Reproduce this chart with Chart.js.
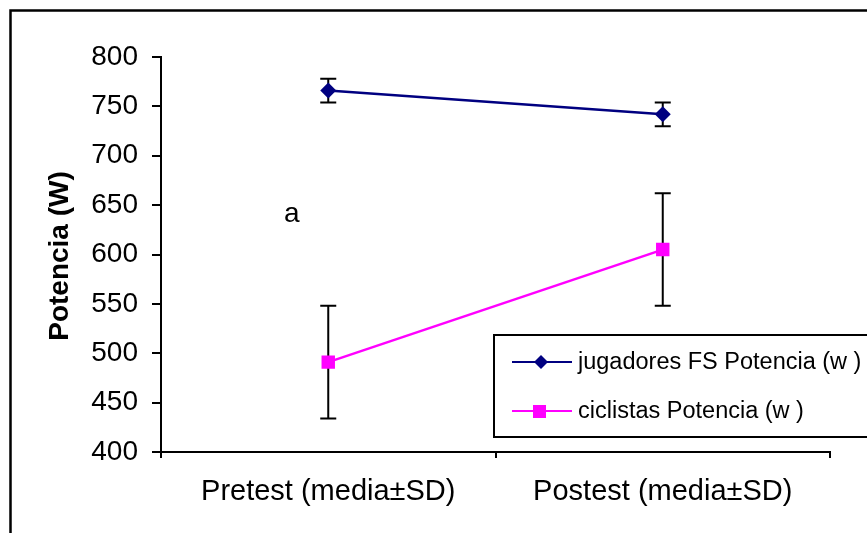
<!DOCTYPE html>
<html>
<head>
<meta charset="utf-8">
<script src="https://cdn.jsdelivr.net/npm/chart.js@4/dist/chart.umd.min.js"></script>
<style>
  html, body { margin: 0; padding: 0; background: #fff; }
  #wrap { width: 867px; height: 533px; position: relative; }
</style>
</head>
<body>
<div id="wrap"><canvas id="c" width="867" height="533"></canvas></div>
<script>
const categories = ['Pretest (media±SD)', 'Postest (media±SD)'];
const seriesNames = ['jugadores FS Potencia (w )', 'ciclistas Potencia (w )'];
const jugadoresMean = [766, 742];
const jugadoresSD = [12, 12];
const ciclistasMean = [491, 605];
const ciclistasSD = [57, 57];
const yMin = 400, yMax = 800, yStep = 50;
const yTitle = 'Potencia (W)';
const annotationText = 'a';

const FONT = '"Liberation Sans", Arial, sans-serif';

const errorBarPlugin = {
  id: 'errorBars',
  beforeDatasetsDraw(chart) {
    const ctx = chart.ctx;
    const x = chart.scales.x, y = chart.scales.y;
    const sets = [[jugadoresMean, jugadoresSD], [ciclistasMean, ciclistasSD]];
    ctx.save();
    ctx.strokeStyle = '#000';
    ctx.lineWidth = 2;
    sets.forEach(([m, sd]) => {
      m.forEach((v, i) => {
        const px = x.getPixelForValue(i);
        const top = y.getPixelForValue(v + sd[i]);
        const bot = y.getPixelForValue(v - sd[i]);
        ctx.beginPath();
        ctx.moveTo(px, top); ctx.lineTo(px, bot);
        ctx.moveTo(px - 8, top); ctx.lineTo(px + 8, top);
        ctx.moveTo(px - 8, bot); ctx.lineTo(px + 8, bot);
        ctx.stroke();
      });
    });
    ctx.restore();
  }
};

const decorPlugin = {
  id: 'decor',
  afterDraw(chart) {
    const ctx = chart.ctx;
    ctx.save();
    // outer frame
    ctx.strokeStyle = '#000';
    ctx.lineWidth = 2.5;
    ctx.strokeRect(10.5, 10.5, 1000, 1000);
    // y title
    ctx.save();
    ctx.translate(68, 256);
    ctx.rotate(-Math.PI / 2);
    ctx.fillStyle = '#000';
    ctx.font = 'bold 28px ' + FONT;
    ctx.textAlign = 'center';
    ctx.textBaseline = 'alphabetic';
    ctx.fillText(yTitle, 0, 0);
    ctx.restore();
    // annotation
    ctx.fillStyle = '#000';
    ctx.font = '28px ' + FONT;
    ctx.textAlign = 'left';
    ctx.textBaseline = 'alphabetic';
    ctx.fillText(annotationText, 284, 222);
    // legend
    ctx.fillStyle = '#fff';
    ctx.fillRect(493, 334, 400, 103);
    ctx.strokeStyle = '#000';
    ctx.lineWidth = 2;
    ctx.strokeRect(494, 335, 400, 102);
    const entries = [
      { y: 362, color: '#000080', style: 'rectRot', name: seriesNames[0] },
      { y: 411, color: '#FF00FF', style: 'rect', name: seriesNames[1] }
    ];
    entries.forEach(e => {
      ctx.strokeStyle = e.color;
      ctx.lineWidth = 2;
      ctx.beginPath();
      ctx.moveTo(512, e.y); ctx.lineTo(572, e.y);
      ctx.stroke();
      ctx.fillStyle = e.color;
      if (e.style === 'rectRot') {
        ctx.beginPath();
        ctx.moveTo(541, e.y - 7); ctx.lineTo(548, e.y); ctx.lineTo(541, e.y + 7); ctx.lineTo(534, e.y);
        ctx.closePath(); ctx.fill();
      } else {
        ctx.fillRect(533, e.y - 6, 13, 13);
      }
      ctx.fillStyle = '#000';
      ctx.font = '23.5px ' + FONT;
      ctx.textAlign = 'left';
      ctx.textBaseline = 'middle';
      ctx.fillText(e.name, 578, e.y + 1);
    });
    ctx.restore();
  }
};

new Chart(document.getElementById('c'), {
  type: 'line',
  data: {
    labels: categories,
    datasets: [
      {
        label: seriesNames[0],
        data: jugadoresMean,
        borderColor: '#000080',
        backgroundColor: '#000080',
        borderWidth: 2.5,
        pointStyle: 'rectRot',
        pointRadius: 8,
        pointHoverRadius: 8,
        pointBorderWidth: 0,
        tension: 0
      },
      {
        label: seriesNames[1],
        data: ciclistasMean,
        borderColor: '#FF00FF',
        backgroundColor: '#FF00FF',
        borderWidth: 2.5,
        pointStyle: 'rect',
        pointRadius: 9.5,
        pointHoverRadius: 9.5,
        pointBorderWidth: 0,
        tension: 0
      }
    ]
  },
  options: {
    responsive: false,
    animation: false,
    devicePixelRatio: 1,
    layout: { padding: { top: 57, right: 37, left: 0, bottom: 0 } },
    plugins: { legend: { display: false }, tooltip: { enabled: false } },
    scales: {
      x: {
        offset: true,
        afterFit(s) { s.height = 81; },
        grid: { offset: true, drawOnChartArea: false, drawTicks: true, tickLength: 6, color: '#000', lineWidth: 2 },
        border: { display: true, color: '#000', width: 2 },
        ticks: { color: '#000', font: { family: FONT, size: 29 }, padding: 17, maxRotation: 0, autoSkip: false }
      },
      y: {
        min: yMin, max: yMax,
        afterFit(s) { s.width = 161; },
        grid: { drawOnChartArea: false, drawTicks: true, tickLength: 9, color: '#000', lineWidth: 2 },
        border: { display: true, color: '#000', width: 2 },
        ticks: { stepSize: yStep, color: '#000', font: { family: FONT, size: 28 }, padding: 14 }
      }
    }
  },
  plugins: [errorBarPlugin, decorPlugin]
});
</script>
</body>
</html>
